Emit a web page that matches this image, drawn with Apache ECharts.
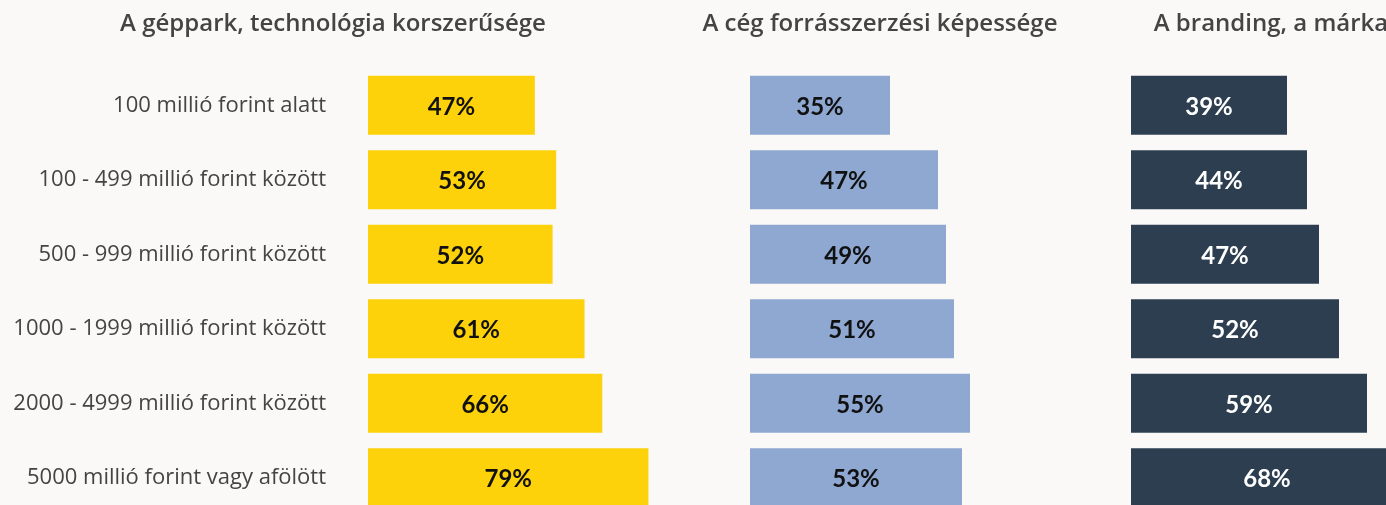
<!DOCTYPE html>
<html>
<head>
<meta charset="utf-8">
<script src="https://cdn.jsdelivr.net/npm/echarts@6/dist/echarts.min.js"></script>
<style>
  html, body { margin: 0; padding: 0; background: #faf9f7; overflow: hidden; }
  /* a vászon szándékosan nagyobb az ablaknál: az utolsó sáv és oszlop levágva látszik */
  #main { width: 1600px; height: 540px; }
</style>
</head>
<body>
<div id="main"></div>
<script>
// árbevétel kategóriák
var categories = [
    '100 millió forint alatt',
    '100 - 499 millió forint között',
    '500 - 999 millió forint között',
    '1000 - 1999 millió forint között',
    '2000 - 4999 millió forint között',
    '5000 millió forint vagy afölött'
];
var panelTitles = [
    'A géppark, technológia korszerűsége',
    'A cég forrásszerzési képessége',
    'A branding, a márka'
];
var machinery = [47, 53, 52, 61, 66, 79];
var sourcing = [35, 47, 49, 51, 55, 53];
var branding = [39, 44, 47, 52, 59, 68];

var myChart = echarts.init(document.getElementById('main'));

var gridTop = 68, gridHeight = 447;
var panels = [
    { left: 368, width: 355, titleX: 328, color: '#fdd20a', text: '#111', data: machinery },
    { left: 750, width: 400, titleX: 875, color: '#8ea8d2', text: '#111', data: sourcing },
    { left: 1131, width: 400, titleX: 1266, color: '#2c3e50', text: '#fff', data: branding }
];

var option = {
    backgroundColor: '#faf9f7',
    title: panels.map(function (p, i) {
        return {
            text: panelTitles[i],
            left: p.titleX,
            top: 7,
            textAlign: 'center',
            textStyle: { fontFamily: 'Open Sans', fontSize: 24, fontWeight: 600, color: '#444' }
        };
    }),
    grid: panels.map(function (p) {
        return { left: p.left, width: p.width, top: gridTop, height: gridHeight };
    }),
    xAxis: panels.map(function (p, i) {
        return { type: 'value', gridIndex: i, min: 0, max: 100, show: false };
    }),
    yAxis: panels.map(function (p, i) {
        return {
            type: 'category',
            gridIndex: i,
            data: categories,
            inverse: true,
            axisLine: { show: false },
            axisTick: { show: false },
            axisLabel: {
                show: i === 0,
                margin: 42,
                fontFamily: 'Open Sans',
                fontSize: 22,
                color: '#444'
            }
        };
    }),
    series: panels.map(function (p, i) {
        return {
            type: 'bar',
            xAxisIndex: i,
            yAxisIndex: i,
            data: p.data,
            barWidth: 59,
            itemStyle: { color: p.color },
            label: {
                show: true,
                position: 'inside',
                offset: [0, 2],
                formatter: '{c}%',
                fontFamily: 'Lato',
                fontWeight: 'bold',
                fontSize: 24,
                color: p.text
            },
            silent: true
        };
    })
};
myChart.setOption(option);
</script>
</body>
</html>
